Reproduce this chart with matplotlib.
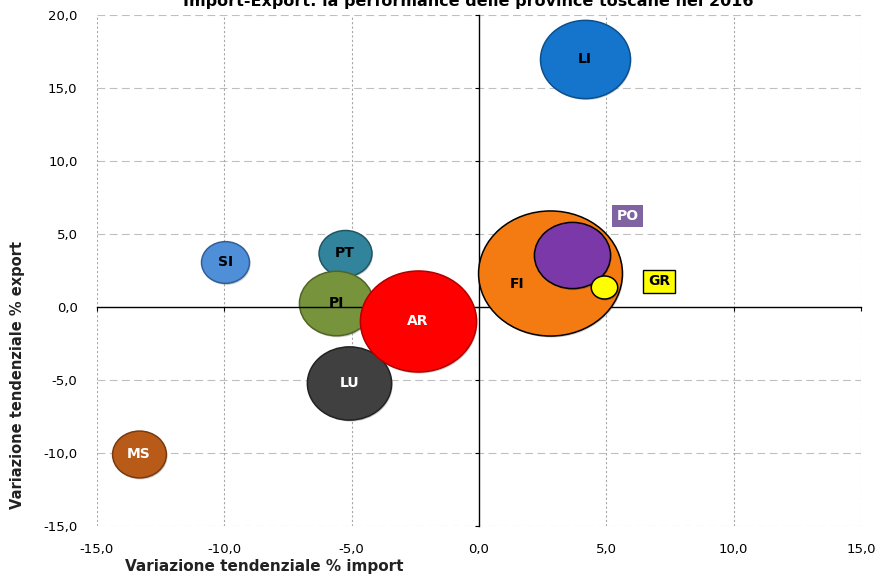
import matplotlib
matplotlib.use("Agg")
import matplotlib.pyplot as plt
from matplotlib.path import Path
from matplotlib.transforms import Affine2D
from matplotlib.ticker import FuncFormatter
import numpy as np

# ---- data ----
provinces = ["MS", "SI", "PT", "PI", "LU", "AR", "FI", "PO", "GR", "LI"]
import_var = [-13.35, -9.97, -5.26, -5.61, -5.10, -2.40, 2.79, 3.65, 4.90, 4.16]
export_var = [-10.07, 3.08, 3.70, 0.27, -5.20, -0.96, 2.33, 3.56, 1.37, 17.0]
bubble_size = [29, 23, 28, 55, 71, 135, 207, 58, 7, 81]
colors = ["#b85a18", "#4f8fd8", "#31849b", "#77933c", "#404040", "#ff0000",
          "#f47a12", "#7a38a8", "#ffff00", "#1575cc"]
edges = ["#7a3a0e", "#2f5f9a", "#1f5666", "#506428", "#222222", "#b00000",
         "#000000", "#000000", "#000000", "#0d4f8c"]
label_color = ["white", "black", "black", "black", "white", "white",
               "black", "white", "black", "black"]

xticks = [-15, -10, -5, 0, 5, 10, 15]
yticks = [-15, -10, -5, 0, 5, 10, 15, 20]

fig = plt.figure(figsize=(8.8, 5.76), dpi=100)
ax = fig.add_axes([97/880, 1-526/576, (861-97)/880, (526-15)/576])
ax.set_xlim(-15, 15)
ax.set_ylim(-15, 20)

# grid
for y in yticks:
    if y != 0:
        ax.axhline(y, color="#bfbfbf", lw=0.8, ls=(0, (7, 4)), zorder=0)
for x in xticks:
    if x != 0:
        ax.axvline(x, color="#a6a6a6", lw=0.8, ls=(0, (2, 2)), zorder=0)

# spines crossing at zero
for s in ["top", "right"]:
    ax.spines[s].set_visible(False)
ax.spines["left"].set_position(("data", 0))
ax.spines["bottom"].set_position(("data", 0))
ax.spines["left"].set_linewidth(1.0)
ax.spines["bottom"].set_linewidth(1.0)
ax.set_xticks(xticks)
ax.set_yticks(yticks)
ax.tick_params(direction="out", length=3, width=0.8, labelleft=False, labelbottom=False)

fmt = FuncFormatter(lambda v, p: f"{v:.1f}".replace(".", ","))
tick_family = ["Liberation Sans Narrow", "DejaVu Sans"]

secx = ax.secondary_xaxis(0)
secx.set_xticks(xticks)
secx.xaxis.set_major_formatter(fmt)
secx.tick_params(length=0, pad=12)
secx.spines["bottom"].set_visible(False)
for t in secx.get_xticklabels():
    t.set_fontfamily(tick_family); t.set_fontsize(9.5)

secy = ax.secondary_yaxis(0)
secy.set_yticks(yticks)
secy.yaxis.set_major_formatter(fmt)
secy.tick_params(length=0, pad=14)
secy.spines["left"].set_visible(False)
for t in secy.get_yticklabels():
    t.set_fontfamily(tick_family); t.set_fontsize(9.5)

# ellipse marker
ell = Path.unit_circle().transformed(Affine2D().scale(1.15, 1.0))

k = 51.84  # points^2 per size unit
for i, p in enumerate(provinces):
    s = k * bubble_size[i]
    # soft shadow
    ax.scatter([import_var[i]], [export_var[i]], s=s, marker=ell, color="#00000030",
               edgecolors="none", zorder=2 + i * 0.1,
               transform=ax.transData + Affine2D().translate(1.5, -2))
    ax.scatter([import_var[i]], [export_var[i]], s=s, marker=ell, color=colors[i],
               edgecolors=edges[i], linewidths=1.1, zorder=2 + i * 0.1 + 0.05)

# labels
offsets = {"FI": (-24, -8), "PO": (40, 28), "GR": (40, 4)}
for i, p in enumerate(provinces):
    off = offsets.get(p, (0, 0))
    bbox = None
    col = label_color[i]
    if p == "PO":
        bbox = dict(boxstyle="square,pad=0.3", fc="#8064a2", ec="none")
        col = "white"
    elif p == "GR":
        bbox = dict(boxstyle="square,pad=0.35", fc="#ffff00", ec="black", lw=1)
        col = "black"
    ax.annotate(p, (import_var[i], export_var[i]), xytext=off, textcoords="offset points",
                ha="center", va="center", fontsize=10, fontweight="bold", color=col,
                bbox=bbox, zorder=10)

fig.text(468/880, 1 - 6/576, "Import-Export: la performance delle province toscane nel 2016",
         ha="center", va="baseline", fontsize=11.5, fontweight="bold")
fig.text(125/880, 1 - 566/576, "Variazione tendenziale % import", ha="left", va="center",
         fontsize=11, fontweight="bold", color="#222222")
fig.text(18/880, 1 - 375/576, "Variazione tendenziale % export", ha="center", va="center",
         rotation=90, fontsize=10.5, fontweight="bold", color="#222222")

fig.savefig("out.png", dpi=100)
